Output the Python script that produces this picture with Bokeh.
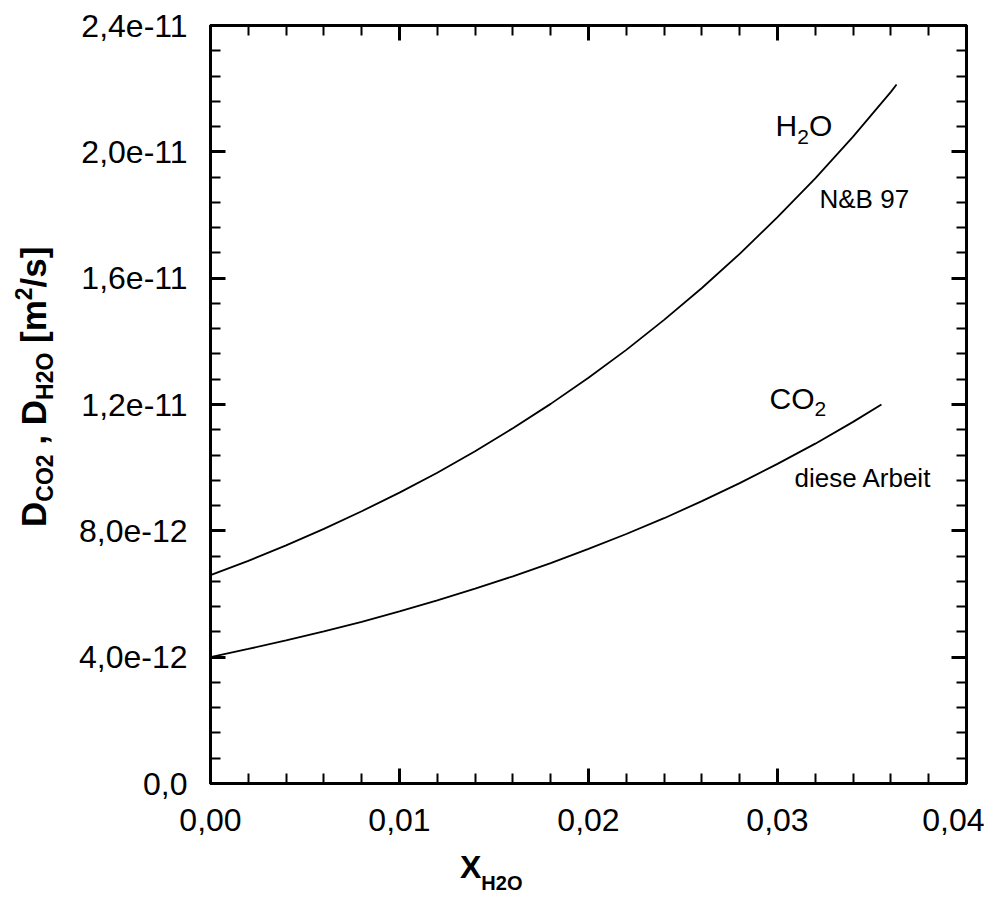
import numpy as np
from bokeh.plotting import figure
from bokeh.models import Range1d, FixedTicker, LinearAxis, Label, Div
from bokeh.layouts import column
from bokeh.embed import file_html
from bokeh.resources import INLINE

# ---- data (D in units of 1e-12 m^2/s) ----
x_h2o = [0.0, 0.002, 0.004, 0.006, 0.008, 0.010, 0.012, 0.014, 0.016, 0.018,
         0.020, 0.022, 0.024, 0.026, 0.028, 0.030, 0.032, 0.034, 0.036, 0.0363]
d_h2o = [6.60, 7.05, 7.54, 8.06, 8.62, 9.21, 9.84, 10.52, 11.25, 12.02,
         12.85, 13.73, 14.68, 15.69, 16.77, 17.93, 19.16, 20.48, 21.90, 22.13]
x_co2 = [0.0, 0.002, 0.004, 0.006, 0.008, 0.010, 0.012, 0.014, 0.016, 0.018,
         0.020, 0.022, 0.024, 0.026, 0.028, 0.030, 0.032, 0.034, 0.0355]
d_co2 = [4.00, 4.26, 4.53, 4.82, 5.12, 5.45, 5.80, 6.17, 6.56, 6.98,
         7.43, 7.90, 8.40, 8.94, 9.51, 10.12, 10.76, 11.45, 12.00]

x_tick_vals = [0.0, 0.01, 0.02, 0.03, 0.04]
x_tick_labels = ["0,00", "0,01", "0,02", "0,03", "0,04"]
y_tick_vals = [0, 4, 8, 12, 16, 20, 24]
y_tick_labels = ["0,0", "4,0e-12", "8,0e-12", "1,2e-11", "1,6e-11", "2,0e-11", "2,4e-11"]
x_minor = list(np.arange(0, 0.0401, 0.002))
y_minor = list(np.arange(0, 24.01, 0.8))

FONT = "Liberation Sans"

W, H = 984, 886
FL, FR, FT, FB = 210, 966, 25, 783   # frame edges in canvas px

p = figure(width=W, height=H, output_backend="svg", toolbar_location=None,
           x_range=Range1d(0, 0.04), y_range=Range1d(0, 24),
           min_border_left=FL, min_border_right=W - FR,
           min_border_top=FT, min_border_bottom=H - FB,
           x_axis_type=None, y_axis_type=None)
p.grid.visible = False
p.outline_line_color = "black"
p.outline_line_width = 3
p.background_fill_color = "white"
p.border_fill_color = "white"


def style_axis(ax, vals, minor, labels, show, standoff):
    ax.ticker = FixedTicker(ticks=vals, minor_ticks=minor)
    ax.axis_line_width = 3
    ax.axis_line_color = "black"
    ax.major_tick_in = 15
    ax.major_tick_out = 0
    ax.minor_tick_in = 10
    ax.minor_tick_out = 0
    ax.major_tick_line_width = 3
    ax.minor_tick_line_width = 2
    ax.major_tick_line_color = "black"
    ax.minor_tick_line_color = "black"
    if show:
        ax.major_label_overrides = {v: l for v, l in zip(vals, labels)}
        ax.major_label_text_font = FONT
        ax.major_label_text_font_size = "32px"
        ax.major_label_text_color = "black"
        ax.major_label_standoff = standoff
    else:
        ax.major_label_overrides = {v: "" for v in vals}
        ax.major_label_text_font_size = "0px"
        ax.major_label_standoff = 0


xb = LinearAxis(); style_axis(xb, x_tick_vals, x_minor, x_tick_labels, True, 25)
xt = LinearAxis(); style_axis(xt, x_tick_vals, x_minor, x_tick_labels, False, 0)
yl = LinearAxis(); style_axis(yl, y_tick_vals, y_minor, y_tick_labels, True, 23)
yr = LinearAxis(); style_axis(yr, y_tick_vals, y_minor, y_tick_labels, False, 0)
p.add_layout(xb, "below")
p.add_layout(xt, "above")
p.add_layout(yl, "left")
p.add_layout(yr, "right")

p.line(x_h2o, d_h2o, line_color="black", line_width=1.8)
p.line(x_co2, d_co2, line_color="black", line_width=1.8)


def dx(px):
    return (px - FL) / (FR - FL) * 0.04


def dy(py):
    return (FB - py) / (FB - FT) * 24


def lab(text, px, py, size):
    p.add_layout(Label(x=dx(px), y=dy(py), text=text, text_font=FONT,
                       text_font_size=f"{size}px", text_color="black",
                       text_align="left", text_baseline="alphabetic"))


# in-plot annotations
lab("H", 775, 125, 30)
lab("2", 796.7, 136, 21)
lab("O", 808.4, 125, 30)
lab("N&B 97", 819, 198, 26)
lab("CO", 769, 398, 30)
lab("2", 814, 408, 21)
lab("diese Arbeit", 794, 477, 26)

# axis titles as HTML text positioned over the figure
base = ("font-family:'Liberation Sans',Arial,sans-serif;font-weight:bold;"
        "color:black;white-space:nowrap;line-height:1;")


def sub(t, size, shift):
    return (f"<span style='font-size:{size}px;position:relative;"
            f"top:{shift}px'>{t}</span>")


x_title_html = (f"<div style=\"{base}\"><span style='font-size:32px'>X</span>"
                + sub("H2O", 20, 12) + "</div>")
y_title_html = (f"<div style=\"{base}font-size:35px\">D" + sub("CO2", 23, 7)
                + " , D" + sub("H2O", 23, 7) + " [m" + sub("2", 23, -14)
                + "/s]</div>")

xdiv = Div(text=x_title_html, width=120, height=40, margin=(0, 0, 0, 0),
           styles={"position": "absolute", "left": "460px", "top": "851px"})
ydiv = Div(text=y_title_html, width=330, height=40, margin=(0, 0, 0, 0),
           styles={"position": "absolute", "left": "16px", "top": "527px",
                   "transform": "rotate(-90deg)",
                   "transform-origin": "0 0"})

layout = column(p, xdiv, ydiv, spacing=0)
open("out.html", "w").write(file_html(layout, INLINE))
